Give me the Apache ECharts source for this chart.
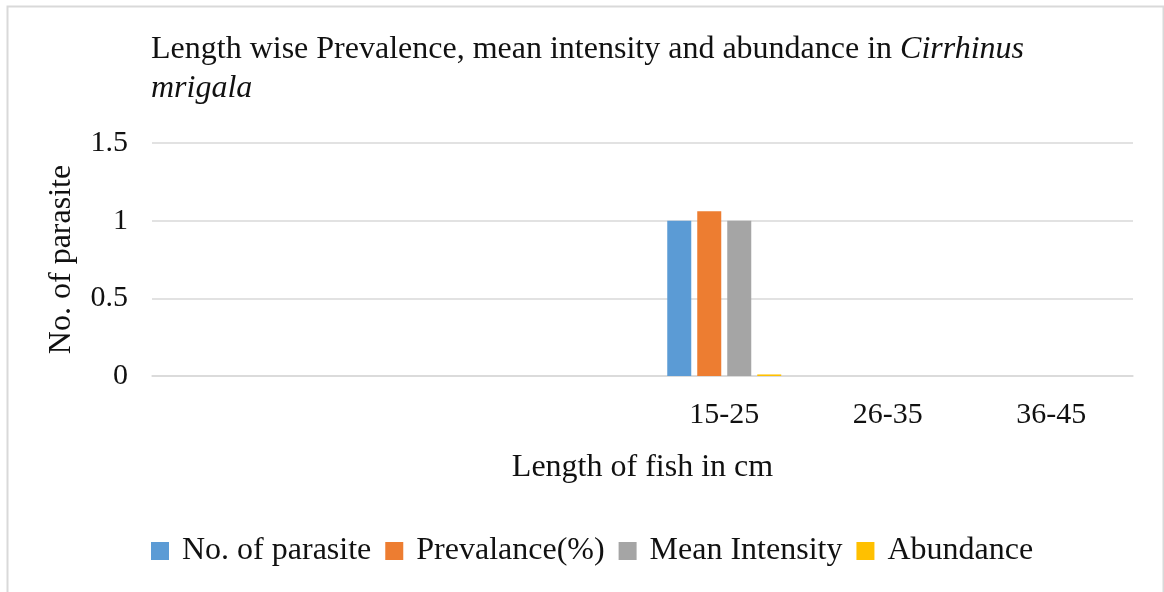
<!DOCTYPE html>
<html>
<head>
<meta charset="utf-8">
<script src="https://cdn.jsdelivr.net/npm/echarts@6/dist/echarts.min.js"></script>
<style>
html,body{margin:0;padding:0;background:#fff;}
#chart{width:1164px;height:592px;}
</style>
</head>
<body>
<div id="chart"></div>
<script>
const categories = ["", "", "", "15-25", "26-35", "36-45"];
const noOfParasite = [null, null, null, 1, 0, 0];
const prevalance = [null, null, null, 1.06, 0, 0];
const meanIntensity = [null, null, null, 1, 0, 0];
const abundance = [null, null, null, 0.01, 0, 0];
const yTicks = [0, 0.5, 1, 1.5];

const FONT = '"Liberation Serif", "Times New Roman", serif';
const TXT = '#111';

const chart = echarts.init(document.getElementById('chart'), null, {renderer: 'canvas'});
const mk = (name, data, color) => ({
  name, type: 'bar', data, barWidth: 24, barGap: '25%',
  itemStyle: {color}, emphasis: {disabled: true}
});
chart.setOption({
  animation: false,
  backgroundColor: '#fff',
  graphic: [{
    type: 'rect', left: 5, top: 4, shape: {width: 1156, height: 600},
    style: {fill: 'none', stroke: '#d9d9d9', lineWidth: 2}, silent: true
  }],
  title: {
    text: 'Length wise Prevalence, mean intensity and abundance in {i|Cirrhinus}\n{i|mrigala}',
    left: 146, top: 25,
    textStyle: {
      fontFamily: FONT, fontSize: 32, fontWeight: 'normal', color: TXT, lineHeight: 39,
      rich: {i: {fontFamily: FONT, fontSize: 32, fontStyle: 'italic', color: TXT, lineHeight: 39}}
    }
  },
  legend: {
    left: 146, top: 530,
    itemWidth: 18, itemHeight: 18, itemGap: 14, icon: 'rect',
    textStyle: {fontFamily: FONT, fontSize: 32, color: TXT, padding: [0, 0, 0, 8]},
    data: ['No. of parasite', 'Prevalance(%)', 'Mean Intensity', 'Abundance']
  },
  grid: {left: 152, right: 31, top: 143, bottom: 216, containLabel: false},
  xAxis: {
    type: 'category', data: categories,
    name: 'Length of fish in cm', nameLocation: 'middle', nameGap: 76,
    nameTextStyle: {fontFamily: FONT, fontSize: 32, color: TXT},
    axisLine: {show: true, lineStyle: {color: '#d9d9d9', width: 1.5}},
    axisTick: {show: false},
    axisLabel: {fontFamily: FONT, fontSize: 30, color: TXT, margin: 24, interval: 0},
    splitLine: {show: false}
  },
  yAxis: {
    type: 'value', min: 0, max: 1.5, interval: 0.5,
    name: 'No. of parasite', nameLocation: 'middle', nameGap: 74, nameRotate: 90,
    nameTextStyle: {fontFamily: FONT, fontSize: 32, color: TXT},
    axisLine: {show: false}, axisTick: {show: false},
    axisLabel: {fontFamily: FONT, fontSize: 30, color: TXT, margin: 24,
      formatter: v => yTicks.includes(v) ? String(v) : ''},
    splitLine: {lineStyle: {color: '#d9d9d9', width: 1.5}}
  },
  series: [
    mk('No. of parasite', noOfParasite, '#5B9BD5'),
    mk('Prevalance(%)', prevalance, '#ED7D31'),
    mk('Mean Intensity', meanIntensity, '#A5A5A5'),
    mk('Abundance', abundance, '#FFC000')
  ]
});
</script>
</body>
</html>
